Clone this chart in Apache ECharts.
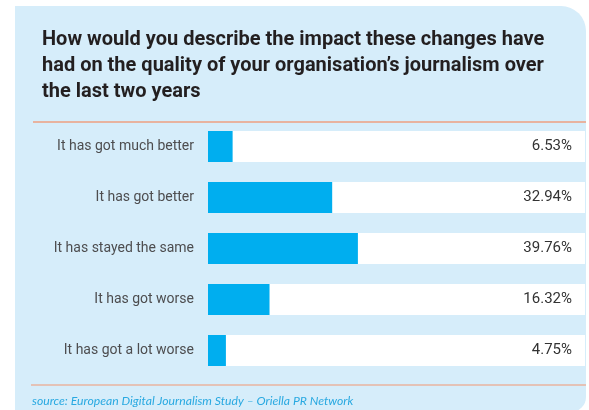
<!DOCTYPE html>
<html>
<head>
<meta charset="utf-8">
<script src="https://cdn.jsdelivr.net/npm/echarts@6/dist/echarts.min.js"></script>
<style>
  html, body { margin: 0; padding: 0; background: #ffffff; }
  #chart { width: 589px; height: 410px; }
</style>
</head>
<body>
<div id="chart"></div>
<script>
// Survey answers, top to bottom
const categories = [
  'It has got much better',
  'It has got better',
  'It has stayed the same',
  'It has got worse',
  'It has got a lot worse'
];
// Share of respondents per answer (%)
const shares = [6.53, 32.94, 39.76, 16.32, 4.75];
const shareLabels = shares.map(v => v.toFixed(2) + '%');

const titleLines = [
  'How would you describe the impact these changes have',
  'had on the quality of your organisation\u2019s journalism over',
  'the last two years'
];
const sourceNote = 'source: European Digital Journalism Study \u2013 Oriella PR Network';

const FONT = 'Roboto, "DejaVu Sans Condensed", sans-serif';

const chart = echarts.init(document.getElementById('chart'), null, { renderer: 'canvas' });

chart.setOption({
  animation: false,
  backgroundColor: '#ffffff',
  title: {
    text: titleLines.join('\n'),
    left: 42,
    top: 27,
    padding: 0,
    textStyle: {
      fontFamily: FONT,
      fontSize: 20,
      fontWeight: 'bold',
      lineHeight: 26,
      color: '#231f20'
    }
  },
  graphic: [
    {
      type: 'rect',
      z: -10,
      silent: true,
      shape: { x: 15, y: 6, width: 571, height: 406, r: [0, 25, 15, 0] },
      style: { fill: '#d6edfa' }
    },
    {
      type: 'line',
      silent: true,
      shape: { x1: 33, y1: 122, x2: 586, y2: 122 },
      style: { stroke: '#e8b39f', lineWidth: 2 }
    },
    {
      type: 'line',
      silent: true,
      shape: { x1: 31, y1: 385, x2: 586, y2: 385 },
      style: { stroke: '#e8b39f', lineWidth: 1.5 }
    },
    {
      type: 'text',
      silent: true,
      left: 32,
      top: 395,
      style: {
        text: sourceNote,
        fontFamily: 'Lato, sans-serif',
        fontStyle: 'italic',
        fontSize: 12.2,
        fill: '#29a9e1'
      }
    }
  ],
  grid: {
    left: 208,
    right: 4,
    top: 121,
    height: 255,
    containLabel: false
  },
  xAxis: {
    type: 'value',
    min: 0,
    max: 100,
    show: false
  },
  yAxis: [
    {
      type: 'category',
      data: categories,
      inverse: true,
      z: 10,
      axisLine: { show: false },
      axisTick: { show: false },
      splitLine: { show: false },
      axisLabel: {
        margin: 14,
        fontFamily: FONT,
        fontSize: 14,
        color: '#4d4d4f'
      }
    },
    {
      type: 'category',
      data: shareLabels,
      inverse: true,
      position: 'right',
      z: 10,
      axisLine: { show: false },
      axisTick: { show: false },
      splitLine: { show: false },
      axisLabel: {
        inside: true,
        margin: 13,
        fontFamily: FONT,
        fontSize: 15,
        color: '#333333'
      }
    }
  ],
  series: [
    {
      type: 'bar',
      data: shares,
      barWidth: 31,
      showBackground: true,
      backgroundStyle: { color: '#ffffff' },
      itemStyle: { color: '#00aeef' },
      silent: true
    }
  ]
});
</script>
</body>
</html>
